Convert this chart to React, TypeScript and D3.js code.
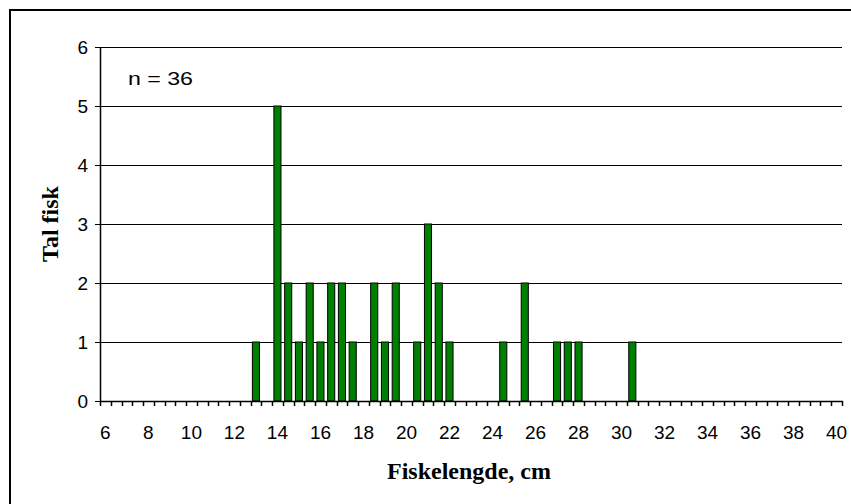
import React from "react";
import * as d3 from "d3";

const lengths = [13, 14, 14.5, 15, 15.5, 16, 16.5, 17, 17.5, 18.5, 19, 19.5, 20.5, 21, 21.5, 22, 24.5, 25.5, 27, 27.5, 28, 30.5];
const counts = [1, 5, 2, 1, 2, 1, 2, 2, 1, 2, 1, 2, 1, 3, 2, 1, 1, 2, 1, 1, 1, 1];
const categoryStart = 6;
const categoryEnd = 40;
const categoryStep = 0.5;
const xLabelValues = [6, 8, 10, 12, 14, 16, 18, 20, 22, 24, 26, 28, 30, 32, 34, 36, 38, 40];
const yTicks = [0, 1, 2, 3, 4, 5, 6];
const annotation = "n = 36";
const xTitle = "Fiskelengde, cm";
const yTitle = "Tal fisk";

const W = 851;
const H = 504;
const left = 100;
const right = 842;
const top = 47;
const bottom = 401;

export default function App() {
  const nCat = Math.round((categoryEnd - categoryStart) / categoryStep) + 1;
  const categories = d3.range(nCat).map((i) => categoryStart + i * categoryStep);
  const key = (v: number) => v.toFixed(1);
  const x = d3.scaleBand<string>().domain(categories.map(key)).range([left, right]).paddingInner(0.34).paddingOuter(0.17);
  const step = x.step();
  const y = d3.scaleLinear().domain([0, 6]).range([bottom, top]);
  const boundaries = d3.range(nCat + 1).map((i) => left + i * step);
  const green = "#008000";
  const sans = "Liberation Sans, Arial, sans-serif";
  const serif = "Liberation Serif, Times New Roman, serif";
  return (
    <svg width={W} height={H} style={{ position: "absolute", left: 0, top: 0, background: "#fff" }}>
      <rect x={0} y={0} width={W} height={H} fill="#fff" />
      <rect x={10} y={10} width={W + 20} height={H + 20} fill="none" stroke="#000" strokeWidth={2} />
      {yTicks.filter((t) => t > 0).map((t) => (
        <line key={"g" + t} x1={left} x2={right} y1={Math.round(y(t)) + 0.5} y2={Math.round(y(t)) + 0.5} stroke="#000" strokeWidth={1} />
      ))}
      {lengths.map((l, i) => (
        <rect
          key={"b" + i}
          x={x(key(l))!}
          y={y(counts[i])}
          width={x.bandwidth()}
          height={bottom - y(counts[i])}
          fill={green}
          stroke="#000"
          strokeWidth={1}
        />
      ))}
      <line x1={left + 0.5} x2={left + 0.5} y1={top} y2={bottom} stroke="#000" strokeWidth={1.5} />
      <line x1={left} x2={right + 1} y1={bottom + 0.5} y2={bottom + 0.5} stroke="#000" strokeWidth={1.5} />
      {yTicks.map((t) => (
        <line key={"yt" + t} x1={left - 5} x2={left} y1={Math.round(y(t)) + 0.5} y2={Math.round(y(t)) + 0.5} stroke="#000" strokeWidth={1} />
      ))}
      {boundaries.map((bx, i) => (
        <line key={"xt" + i} x1={Math.round(bx) + 0.5} x2={Math.round(bx) + 0.5} y1={bottom} y2={bottom + 5} stroke="#000" strokeWidth={1.5} />
      ))}
      {yTicks.map((t) => (
        <text key={"yl" + t} x={88} y={y(t)} dy="0.36em" textAnchor="end" fontFamily={sans} fontSize={19}>
          {t}
        </text>
      ))}
      {xLabelValues.map((v) => (
        <text key={"xl" + v} x={x(key(v))! + x.bandwidth() / 2} y={439} textAnchor="middle" fontFamily={sans} fontSize={19}>
          {v}
        </text>
      ))}
      <text x={128} y={85} fontFamily={sans} fontSize={19} textLength={65} lengthAdjust="spacingAndGlyphs">
        {annotation}
      </text>
      <text x={469} y={479} textAnchor="middle" fontFamily={serif} fontWeight="bold" fontSize={24}>
        {xTitle}
      </text>
      <text transform={`translate(58,224) rotate(-90)`} textAnchor="middle" fontFamily={serif} fontWeight="bold" fontSize={24}>
        {yTitle}
      </text>
    </svg>
  );
}
